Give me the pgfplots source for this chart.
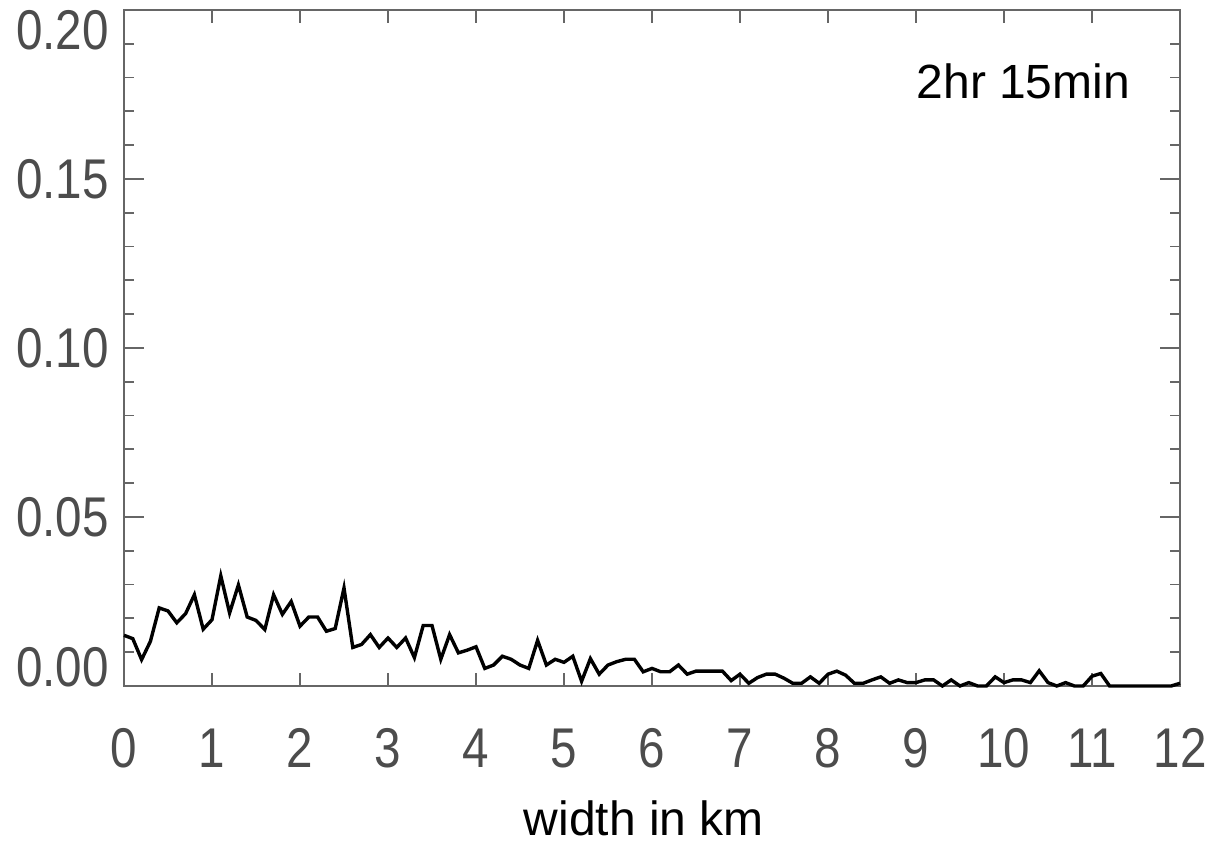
\documentclass[border=0pt]{standalone}
\usepackage{pgfplots}
\pgfplotsset{compat=1.18}
\usepackage{fontspec}
\setmainfont{Liberation Sans}
\newfontfamily\tickfont[FakeStretch=0.85]{Liberation Sans}
\usetikzlibrary{calc}

\begin{document}
\begin{tikzpicture}
\begin{axis}[
    scale only axis,
    width=528pt, height=338pt,
    xmin=0, xmax=12, ymin=0, ymax=0.20,
    clip=false,
    axis line style={black!60, line width=0.9pt},
    tick style={black!60, line width=0.9pt},
    major tick length=10pt, minor tick length=5pt,
    xtick={0,1,...,12},
    xticklabels={0,1,2,3,4,5,6,7,8,9,10,11,12},
    xtick style={/pgfplots/major tick length=6.5pt},
    ytick={0,0.05,0.10,0.15,0.20},
    yticklabels={\raisebox{9.5pt}[\height][\depth]{0.00},0.05,0.10,0.15,\raisebox{-10pt}[\height][\depth]{0.20}},
    minor y tick num=4,
    ticklabel style={font=\tickfont\fontsize{28}{30}\selectfont, text=black!70},
    xticklabel style={anchor=north, text height=20pt, text depth=0pt, yshift=-17pt},
    yticklabel style={xshift=-4pt},
    xlabel={width in km},
    xlabel style={font=\fontsize{24}{28}\selectfont, yshift=-10pt, xshift=-4pt},
]
% fraction of features per 0.1 km bin
\addplot[black, line width=1.7pt] coordinates {
(0.0,0.0150) (0.1,0.0140) (0.2,0.0078) (0.3,0.0132) (0.4,0.0231)
(0.5,0.0222) (0.6,0.0187) (0.7,0.0214) (0.8,0.0270) (0.9,0.0168)
(1.0,0.0196) (1.1,0.0326) (1.2,0.0216) (1.3,0.0299) (1.4,0.0204)
(1.5,0.0194) (1.6,0.0167) (1.7,0.0270) (1.8,0.0212) (1.9,0.0250)
(2.0,0.0177) (2.1,0.0204) (2.2,0.0204) (2.3,0.0162) (2.4,0.0170)
(2.5,0.0290) (2.6,0.0114) (2.7,0.0123) (2.8,0.0152) (2.9,0.0114)
(3.0,0.0142) (3.1,0.0114) (3.2,0.0142) (3.3,0.0084) (3.4,0.0179)
(3.5,0.0179) (3.6,0.0079) (3.7,0.0152) (3.8,0.0098) (3.9,0.0106)
(4.0,0.0116) (4.1,0.0052) (4.2,0.0062) (4.3,0.0088) (4.4,0.0079)
(4.5,0.0062) (4.6,0.0052) (4.7,0.0135) (4.8,0.0062) (4.9,0.0079)
(5.0,0.0070) (5.1,0.0088) (5.2,0.0014) (5.3,0.0081) (5.4,0.0035)
(5.5,0.0062) (5.6,0.0072) (5.7,0.0079) (5.8,0.0079) (5.9,0.0042)
(6.0,0.0052) (6.1,0.0042) (6.2,0.0042) (6.3,0.0062) (6.4,0.0035)
(6.5,0.0044) (6.6,0.0044) (6.7,0.0044) (6.8,0.0044) (6.9,0.0016)
(7.0,0.0035) (7.1,0.0008) (7.2,0.0025) (7.3,0.0035) (7.4,0.0035)
(7.5,0.0023) (7.6,0.0008) (7.7,0.0008) (7.8,0.0027) (7.9,0.0008)
(8.0,0.0035) (8.1,0.0044) (8.2,0.0032) (8.3,0.0008) (8.4,0.0008)
(8.5,0.0018) (8.6,0.0027) (8.7,0.0008) (8.8,0.0018) (8.9,0.0010)
(9.0,0.0010) (9.1,0.0018) (9.2,0.0018) (9.3,0.0000) (9.4,0.0018)
(9.5,0.0000) (9.6,0.0010) (9.7,0.0000) (9.8,0.0000) (9.9,0.0027)
(10.0,0.0010) (10.1,0.0018) (10.2,0.0018) (10.3,0.0010) (10.4,0.0045)
(10.5,0.0010) (10.6,0.0000) (10.7,0.0010) (10.8,0.0000) (10.9,0.0000)
(11.0,0.0029) (11.1,0.0037) (11.2,0.0000) (11.3,0.0000) (11.4,0.0000)
(11.5,0.0000) (11.6,0.0000) (11.7,0.0000) (11.8,0.0000) (11.9,0.0000)
(12.0,0.0008)
};
\node[font=\fontsize{24}{28}\selectfont] at (axis cs:10.22,0.179) {2hr 15min};
\end{axis}
\pgfresetboundingbox
\path ($(current axis.south west)+(-62pt,-79pt)$) rectangle ($(current axis.north east)+(15pt,5pt)$);
\end{tikzpicture}
\end{document}
